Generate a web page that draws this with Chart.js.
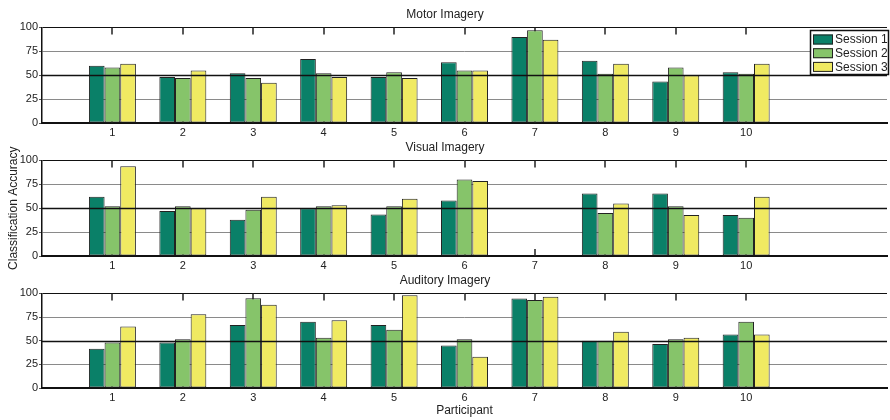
<!DOCTYPE html>
<html>
<head>
<meta charset="utf-8">
<script src="https://cdn.jsdelivr.net/npm/chart.js@4/dist/chart.umd.min.js"></script>
<style>
  html, body { margin: 0; padding: 0; background: #fff; }
  #wrap { position: relative; width: 890px; height: 420px; }
  #wrap canvas { position: absolute; left: 0; top: 0; }
</style>
</head>
<body>
<div id="wrap">
  <canvas id="motor" width="890" height="420"></canvas>
  <canvas id="visual" width="890" height="420"></canvas>
  <canvas id="auditory" width="890" height="420"></canvas>
</div>
<script>
// Participants 1..10 sit on a 0..12 category axis
const participants = [1, 2, 3, 4, 5, 6, 7, 8, 9, 10];
const axisSlots = [0, 1, 2, 3, 4, 5, 6, 7, 8, 9, 10, 11, 12];
const yTicks = [0, 25, 50, 75, 100];
const sessionNames = ['Session 1', 'Session 2', 'Session 3'];
const sessionColors = ['#0a8068', '#86c46a', '#f0ea62'];

// Classification accuracy (%) per participant
const motorS1 = [60, 48, 52, 67, 48, 63.5, 90, 65, 43.5, 53];
const motorS2 = [58, 47, 47, 52, 53, 55, 97, 51.5, 58, 51.5];
const motorS3 = [62, 55, 42, 48, 47, 55, 87, 62, 50, 62];

const visualS1 = [62, 47, 38, 50, 43.5, 58, null, 65.5, 65.5, 43];
const visualS2 = [52, 52, 48.5, 52, 52, 80, null, 45, 52, 40];
const visualS3 = [94, 50, 62, 53, 60, 78.5, null, 55, 43, 62];

const auditoryS1 = [41.5, 48, 66.5, 70, 66.5, 45, 94.5, 50, 46.5, 56.5];
const auditoryS2 = [48, 51.5, 95, 53, 61.5, 51.5, 93, 50, 51.5, 70];
const auditoryS3 = [65, 78, 88, 71.5, 98, 33, 96.5, 59.5, 53, 56.5];

const FONT = "'Liberation Sans', Arial, sans-serif";
const TEXT = '#222';

// place the per-participant values on the 0..12 slots
function toSlots(values) {
  return axisSlots.map(s => {
    const i = participants.indexOf(s);
    return i >= 0 ? values[i] : null;
  });
}

// inward tick marks at each participant, top and bottom, behind the bars
const innerTicks = {
  id: 'innerTicks',
  beforeDatasetsDraw(chart) {
    const ctx = chart.ctx;
    const area = chart.chartArea;
    const xs = chart.scales.x;
    ctx.save();
    ctx.strokeStyle = '#222';
    ctx.lineWidth = 1.5;
    participants.forEach(p => {
      const x = Math.round(xs.getPixelForTick(axisSlots.indexOf(p)));
      ctx.beginPath();
      ctx.moveTo(x, area.top);
      ctx.lineTo(x, area.top + 7);
      ctx.moveTo(x, area.bottom);
      ctx.lineTo(x, area.bottom - 7);
      ctx.stroke();
    });
    ctx.restore();
  }
};

// chance-level line at 50 drawn over the bars
const chanceLine = {
  id: 'chanceLine',
  afterDatasetsDraw(chart) {
    const { ctx, chartArea, scales } = chart;
    const y = Math.round(scales.y.getPixelForValue(50)) + 0.5;
    ctx.save();
    ctx.strokeStyle = '#111';
    ctx.lineWidth = 1.5;
    ctx.beginPath();
    ctx.moveTo(chartArea.left, y);
    ctx.lineTo(chartArea.right, y);
    ctx.stroke();
    ctx.restore();
  }
};

// boxed legend in the top-right corner of the first panel
const boxLegend = {
  id: 'boxLegend',
  afterDraw(chart) {
    const { ctx } = chart;
    const x0 = 810, y0 = 30, w = 79, h = 45;
    ctx.save();
    ctx.fillStyle = '#fff';
    ctx.fillRect(x0, y0, w, h);
    ctx.strokeStyle = '#111';
    ctx.lineWidth = 1.5;
    ctx.strokeRect(x0 + 0.5, y0 + 0.5, w - 1, h - 1);
    ctx.font = '12px ' + FONT;
    ctx.textBaseline = 'middle';
    chart.data.datasets.forEach((ds, i) => {
      const cy = y0 + 9.5 + i * 13.7;
      ctx.fillStyle = ds.backgroundColor;
      ctx.fillRect(x0 + 3, cy - 5, 20, 10);
      ctx.strokeStyle = '#222';
      ctx.lineWidth = 1;
      ctx.strokeRect(x0 + 3.5, cy - 4.5, 19, 9);
      ctx.fillStyle = TEXT;
      ctx.fillText(ds.label, x0 + 25, cy + 0.5);
    });
    ctx.restore();
  }
};

function makePanel(id, title, series, opts) {
  const datasets = series.map((vals, i) => ({
    label: sessionNames[i],
    data: toSlots(vals),
    backgroundColor: sessionColors[i],
    borderColor: '#222',
    borderWidth: 1,
    borderSkipped: false,
    categoryPercentage: 0.667,
    barPercentage: 1.0
  }));
  const plugins = [innerTicks, chanceLine];
  if (opts.legend) plugins.push(boxLegend);
  return new Chart(document.getElementById(id), {
    type: 'bar',
    data: { labels: axisSlots.map(String), datasets },
    plugins,
    options: {
      responsive: false,
      animation: false,
      devicePixelRatio: 1,
      events: [],
      layout: { padding: { top: opts.padTop, bottom: opts.padBottom, left: 0, right: 0 } },
      plugins: {
        legend: { display: false },
        tooltip: { enabled: false },
        title: {
          display: true,
          text: title,
          color: TEXT,
          font: { family: FONT, size: 12, weight: 'normal' },
          padding: { top: 0, bottom: 6 }
        }
      },
      scales: {
        x: {
          type: 'category',
          offset: false,
          afterFit(s) { s.height = opts.xHeight; },
          grid: { display: false, drawTicks: false },
          border: { display: true, color: '#111', width: 2 },
          ticks: {
            autoSkip: false,
            maxRotation: 0,
            padding: 3,
            color: TEXT,
            font: { family: FONT, size: 11 },
            callback(v, i) {
              const s = axisSlots[i];
              return participants.includes(s) ? String(s) : '';
            }
          },
          title: {
            display: !!opts.xTitle,
            text: opts.xTitle || '',
            color: TEXT,
            font: { family: FONT, size: 12 },
            padding: { top: 0, bottom: 2 }
          }
        },
        y: {
          min: 0,
          max: 100,
          afterFit(s) { s.width = 42; },
          afterBuildTicks(s) { s.ticks = yTicks.map(v => ({ value: v })); },
          border: { display: true, color: '#111', width: 1.5 },
          grid: {
            drawTicks: true,
            tickLength: 3,
            tickColor: '#555',
            lineWidth: 1,
            color(c) {
              const v = c.tick.value;
              if (v === 100) return '#111';
              if (v === 25 || v === 75) return '#8a8a8a';
              return 'rgba(0,0,0,0)';
            }
          },
          ticks: {
            padding: 1,
            color: TEXT,
            font: { family: FONT, size: 11 }
          },
          title: {
            display: !!opts.yTitle,
            text: opts.yTitle || '',
            color: TEXT,
            font: { family: FONT, size: 12 },
            padding: { top: 6, bottom: 0 }
          }
        }
      }
    }
  });
}

makePanel('motor', 'Motor Imagery', [motorS1, motorS2, motorS3],
  { padTop: 7, padBottom: 277, xHeight: 20, legend: true });
makePanel('visual', 'Visual Imagery', [visualS1, visualS2, visualS3],
  { padTop: 140, padBottom: 144, xHeight: 20, yTitle: 'Classification Accuracy' });
makePanel('auditory', 'Auditory Imagery', [auditoryS1, auditoryS2, auditoryS3],
  { padTop: 273, padBottom: 0, xHeight: 32, xTitle: 'Participant' });
</script>
</body>
</html>
